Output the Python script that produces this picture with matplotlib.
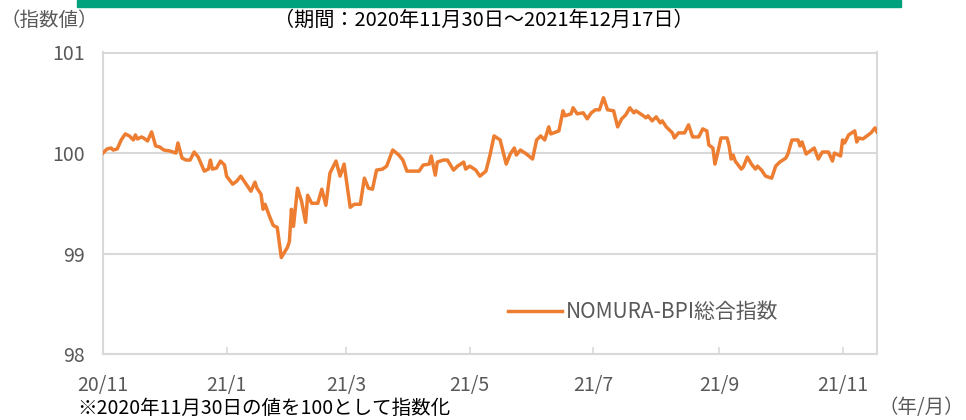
"""
NOMURA-BPI総合指数 (2020/11/30 = 100)
"""

import matplotlib

matplotlib.use("Agg")
import datetime as dt

import matplotlib.dates as mdates
import matplotlib.pyplot as plt
from matplotlib.patches import Rectangle

plt.rcParams["font.family"] = ["Noto Sans CJK JP", "DejaVu Sans"]

# ============================================
# Data
# ============================================
axis_start = dt.date(2020, 11, 1)

# days after axis_start
day_offsets = [
    0, 2, 4, 5, 7, 9, 11, 13, 15, 16, 17, 19, 20, 22, 24, 26, 28, 30, 33, 36,
    37, 39, 41, 43, 45, 47, 50, 52, 53, 54, 56, 58, 60, 61, 64, 66, 68, 71, 73, 75,
    76, 78, 79, 80, 82, 84, 86, 88, 91, 92, 93, 94, 96, 98, 100, 101, 103, 106, 108, 110,
    112, 115, 117, 119, 122, 124, 127, 129, 131, 133, 135, 138, 140, 143, 146, 148, 150, 152, 156, 158,
    161, 162, 164, 165, 168, 170, 173, 175, 178, 179, 181, 184, 186, 189, 191, 193, 196, 199, 201, 203,
    204, 206, 209, 212, 214, 216, 218, 220, 221, 225, 227, 228, 231, 232, 234, 237, 239, 241, 243, 245,
    247, 249, 252, 254, 256, 258, 260, 262, 263, 266, 268, 269, 271, 273, 275, 276, 278, 281, 282, 284,
    287, 289, 291, 294, 296, 298, 299, 301, 302, 303, 305, 308, 309, 310, 311, 312, 315, 316, 318, 320,
    322, 323, 325, 327, 330, 332, 334, 337, 338, 340, 343, 344, 345, 347, 349, 351, 353, 355, 358, 360,
    361, 364, 365, 366, 368, 371, 372, 373, 375, 377, 379, 381, 382,
]

bpi_index = [
    100.00, 100.04, 100.05, 100.03, 100.04, 100.13, 100.19, 100.17, 100.13, 100.18,
    100.14, 100.16, 100.15, 100.12, 100.21, 100.07, 100.06, 100.03, 100.02, 100.00,
    100.10, 99.95, 99.93, 99.93, 100.01, 99.96, 99.82, 99.84, 99.93, 99.84,
    99.85, 99.92, 99.88, 99.77, 99.69, 99.72, 99.77, 99.68, 99.62, 99.71,
    99.65, 99.59, 99.44, 99.49, 99.38, 99.28, 99.26, 98.96, 99.06, 99.12,
    99.44, 99.27, 99.65, 99.52, 99.31, 99.58, 99.50, 99.50, 99.64, 99.48,
    99.80, 99.92, 99.77, 99.89, 99.46, 99.49, 99.49, 99.75, 99.65, 99.64,
    99.83, 99.84, 99.87, 100.03, 99.98, 99.93, 99.82, 99.82, 99.82, 99.88,
    99.89, 99.97, 99.78, 99.91, 99.93, 99.93, 99.83, 99.87, 99.91, 99.84,
    99.87, 99.83, 99.77, 99.82, 99.98, 100.17, 100.13, 99.89, 99.99, 100.05,
    99.98, 100.03, 99.99, 99.94, 100.13, 100.17, 100.13, 100.26, 100.19, 100.22,
    100.42, 100.37, 100.39, 100.45, 100.39, 100.40, 100.34, 100.40, 100.43, 100.43,
    100.55, 100.43, 100.42, 100.26, 100.34, 100.38, 100.45, 100.40, 100.42, 100.38,
    100.35, 100.37, 100.32, 100.36, 100.30, 100.32, 100.26, 100.20, 100.15, 100.20,
    100.20, 100.28, 100.16, 100.16, 100.24, 100.22, 100.08, 100.05, 99.89, 99.97,
    100.15, 100.15, 100.07, 99.94, 99.98, 99.92, 99.84, 99.86, 99.96, 99.89,
    99.84, 99.87, 99.83, 99.77, 99.75, 99.87, 99.91, 99.95, 99.99, 100.13,
    100.13, 100.07, 100.11, 99.99, 100.02, 100.05, 99.94, 100.01, 100.01, 99.92,
    100.00, 99.97, 100.13, 100.10, 100.18, 100.22, 100.11, 100.15, 100.14, 100.17,
    100.20, 100.25, 100.21,
]

dates = [axis_start + dt.timedelta(days=d) for d in day_offsets]
axis_end = axis_start + dt.timedelta(days=day_offsets[-1])

y_ticks = [98, 99, 100, 101]
series_label = "NOMURA-BPI総合指数"
title_text = "（期間：2020年11月30日～2021年12月17日）"
note_text = "※2020年11月30日の値を100として指数化"

# ============================================
# Plot
# ============================================
LINE = "#ED7D31"
GRID = "#D9D9D9"
TEXT = "#595959"

fig = plt.figure(figsize=(9.66, 4.2), dpi=100)
ax = fig.add_axes([0.1066, 0.157, 0.8013, 0.718])

ax.plot(dates, bpi_index, color=LINE, linewidth=2.5, label=series_label,
        solid_joinstyle="round", zorder=3)

ax.set_xlim(axis_start, axis_end)
ax.set_ylim(y_ticks[0], y_ticks[-1])
ax.set_yticks(y_ticks)
ax.yaxis.grid(True, color=GRID, linewidth=1.5)
ax.set_axisbelow(True)

ax.xaxis.set_major_locator(mdates.MonthLocator(bymonth=[1, 3, 5, 7, 9, 11]))
ax.xaxis.set_major_formatter(
    matplotlib.ticker.FuncFormatter(
        lambda x, pos: f"{mdates.num2date(x).year % 100}/{mdates.num2date(x).month}"
    )
)

for side in ["left", "right", "top", "bottom"]:
    ax.spines[side].set_color(GRID)
    ax.spines[side].set_linewidth(1.5)

ax.tick_params(axis="y", length=0, pad=13, labelsize=14, labelcolor=TEXT)
ax.tick_params(axis="x", direction="in", length=5, width=1.2, color=GRID,
               pad=15, labelsize=14, labelcolor=TEXT)

ax.legend(loc="center left", bbox_to_anchor=(0.523, 0.139), frameon=False,
          fontsize=15, labelcolor=TEXT, handlelength=2.6, handletextpad=0.2,
          borderpad=0, borderaxespad=0)

# header bar and texts
fig.patches.append(Rectangle((77 / 966, 1 - 7 / 420), 824 / 966, 7 / 420,
                             transform=fig.transFigure, color="#00A27E"))
fig.text(0.501, 0.952, title_text, ha="center", va="center", fontsize=14.5, color="black")
fig.text(0.0, 0.952, "（指数値）", ha="left", va="center", fontsize=14, color=TEXT)
fig.text(0.998, 0.03, "（年/月）", ha="right", va="center", fontsize=14, color=TEXT)
fig.text(0.08, 0.053, note_text, ha="left", va="top", fontsize=14, color="black")

fig.savefig("out.png", dpi=100)
